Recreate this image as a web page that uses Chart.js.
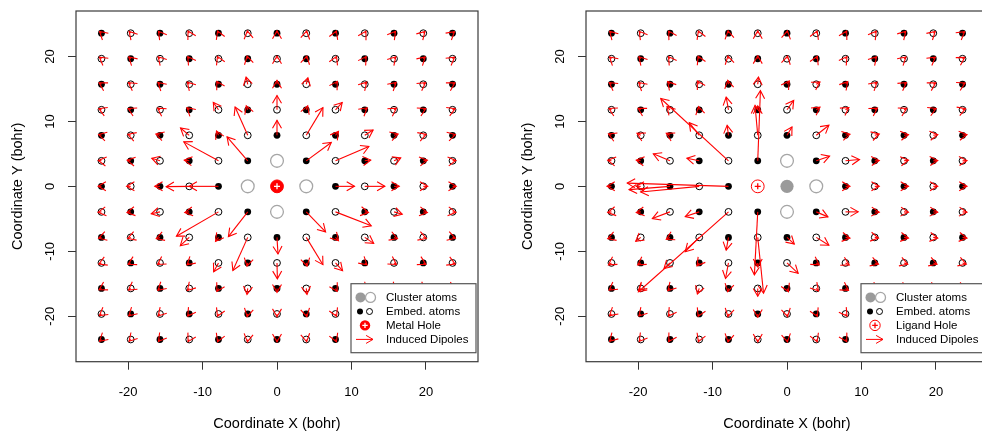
<!DOCTYPE html>
<html><head><meta charset="utf-8">
<script src="https://cdn.jsdelivr.net/npm/chart.js@4.4.0/dist/chart.umd.min.js"></script>
<style>
html,body{margin:0;padding:0;background:#fff;overflow:hidden;width:982px;height:431px;position:relative;}
.wrap{position:absolute;top:0;width:500px;height:431px;}
canvas{display:block;}
</style></head><body>
<div class="wrap" style="left:0px"><canvas id="c1" width="500" height="431"></canvas></div>
<div class="wrap" style="left:510px"><canvas id="c2" width="500" height="431"></canvas></div>
<script>
// ---------- DATA ----------
const colX = [-23.58,-19.65,-15.72,-11.79,-7.86,-3.93,0,3.93,7.86,11.79,15.72,19.65,23.58];
const rowY = [23.58,19.65,15.72,11.79,7.86,3.93,0,-3.93,-7.86,-11.79,-15.72,-19.65,-23.58];
const tickValues = [-20,-10,0,10,20];
const axisMin = -27, axisMax = 27;

// left panel: metal hole
const metalHole = [[0,0]];
const clusterOpenLeft = [[0,3.93],[0,-3.93],[-3.93,0],[3.93,0]];
// right panel: ligand hole
const ligandHole = [[-3.93,0]];
const clusterFilledRight = [[0,0]];
const clusterOpenRight = [[0,3.93],[0,-3.93],[3.93,0]];

// induced dipoles (bohr), rows top->bottom, columns left->right
const metalDipX = [
 [-0.26,-0.22,-0.2,-0.16,-0.12,-0.05,0.0,0.06,0.12,0.16,0.2,0.23,0.26],
 [-0.28,-0.26,-0.24,-0.2,-0.14,-0.08,0.0,0.08,0.14,0.19,0.24,0.26,0.28],
 [-0.32,-0.3,-0.28,-0.26,-0.22,-0.22,0.0,0.22,0.24,0.26,0.28,0.3,0.32],
 [-0.35,-0.34,-0.32,-0.3,-0.7,-0.2,0.0,0.2,0.9,0.32,0.32,0.34,0.35],
 [-0.38,-0.38,-0.55,-1.17,-0.27,-1.7,0.0,2.24,0.4,1.12,0.55,0.38,0.38],
 [-0.42,-0.48,-1.1,-0.67,-4.66,-2.78,null,3.36,4.48,0.8,0.9,0.55,0.45],
 [-0.45,-0.55,-0.7,-3.1,-3.94,null,null,null,2.55,2.7,0.7,0.6,0.5],
 [-0.45,-0.5,-1.17,-0.6,-5.65,-2.6,null,2.6,4.8,0.5,1.1,0.55,0.45],
 [-0.38,-0.4,-0.5,-1.2,-0.4,-2.0,0.13,2.24,0.4,1.2,0.46,0.4,0.38],
 [-0.35,-0.34,-0.32,-0.3,-0.65,-0.1,0.05,0.1,0.95,0.3,0.32,0.34,0.35],
 [-0.32,-0.3,-0.28,-0.26,-0.22,-0.1,0.0,0.1,0.22,0.26,0.28,0.3,0.32],
 [-0.28,-0.26,-0.24,-0.2,-0.14,-0.08,0.0,0.08,0.14,0.19,0.24,0.26,0.28],
 [-0.26,-0.22,-0.2,-0.16,-0.12,-0.05,0.0,0.06,0.12,0.16,0.2,0.23,0.26]
];
const metalDipY = [
 [0.26,0.28,0.3,0.33,0.34,0.36,0.36,0.35,0.34,0.32,0.3,0.27,0.25],
 [0.24,0.27,0.3,0.33,0.36,0.4,0.42,0.4,0.36,0.33,0.3,0.27,0.24],
 [0.21,0.24,0.28,0.32,0.45,1.1,0.6,1.0,0.45,0.32,0.28,0.24,0.21],
 [0.17,0.2,0.24,0.3,1.15,0.6,2.2,0.6,1.13,0.3,0.24,0.2,0.17],
 [0.12,0.15,0.2,1.13,0.67,4.36,2.3,4.26,0.6,0.82,0.2,0.15,0.12],
 [0.07,0.1,0.4,0.1,2.92,3.69,null,2.82,2.2,0.12,0.46,0.1,0.07],
 [0.0,0.0,0.0,-0.05,0.0,null,null,null,0.0,0.0,0.0,0.0,0.0],
 [-0.07,-0.1,-0.3,-0.1,-3.74,-3.8,null,-3.08,-2.15,-0.1,-0.36,-0.1,-0.07],
 [-0.13,-0.16,-0.2,-1.28,-0.6,-5.1,-2.56,-4.2,-0.5,-0.92,-0.2,-0.16,-0.13],
 [-0.17,-0.2,-0.24,-0.3,-1.35,-0.5,-2.45,-0.5,-1.2,-0.3,-0.24,-0.2,-0.17],
 [-0.21,-0.24,-0.28,-0.32,-0.45,-0.9,-0.6,-0.9,-0.45,-0.32,-0.28,-0.24,-0.21],
 [-0.24,-0.27,-0.3,-0.33,-0.36,-0.4,-0.42,-0.4,-0.36,-0.33,-0.3,-0.27,-0.24],
 [-0.26,-0.28,-0.3,-0.33,-0.34,-0.36,-0.36,-0.35,-0.34,-0.32,-0.3,-0.27,-0.25]
];
const ligandDipX = [
 [-0.24,-0.2,-0.17,-0.12,-0.06,0.0,0.06,0.12,0.16,0.2,0.24,0.26,0.28],
 [-0.26,-0.24,-0.2,-0.15,-0.08,0.0,0.08,0.15,0.2,0.24,0.26,0.28,0.3],
 [-0.3,-0.28,-0.3,-0.25,-0.1,0.1,0.3,0.5,0.3,0.3,0.32,0.33,0.34],
 [-0.34,-0.35,-0.4,-0.1,-0.31,0.0,0.9,0.5,0.45,0.35,0.37,0.38,0.4],
 [-0.4,-0.5,-0.5,-1.34,-0.18,-0.36,0.67,1.7,0.6,0.6,0.6,0.6,0.6],
 [-0.5,-0.6,-2.24,-1.66,-9.1,0.36,null,1.79,1.88,0.6,0.6,0.6,0.6],
 [-0.6,-0.6,-5.5,-7.87,-13.6,null,null,null,0.6,0.6,0.6,0.6,0.6],
 [-0.5,-0.6,-2.37,-1.88,-12.1,-0.45,null,1.57,1.7,0.6,0.6,0.6,0.6],
 [-0.5,-0.67,-0.5,-1.88,-0.31,0.78,0.98,1.7,0.6,0.5,0.6,0.6,0.6],
 [-0.4,-0.4,-0.8,-0.3,-0.4,0.0,1.5,0.4,0.5,0.5,0.5,0.5,0.5],
 [-0.32,-0.3,-0.28,-0.25,-0.1,0.0,0.2,0.3,0.4,0.35,0.36,0.37,0.38],
 [-0.26,-0.24,-0.2,-0.15,-0.08,0.0,0.08,0.15,0.2,0.24,0.26,0.28,0.3],
 [-0.24,-0.2,-0.17,-0.12,-0.06,0.0,0.06,0.12,0.16,0.2,0.24,0.26,0.28]
];
const ligandDipY = [
 [0.28,0.3,0.32,0.34,0.36,0.36,0.36,0.34,0.33,0.31,0.29,0.27,0.25],
 [0.26,0.3,0.33,0.37,0.4,0.45,0.4,0.37,0.33,0.3,0.26,0.24,0.21],
 [0.24,0.28,0.4,0.5,0.6,1.1,0.5,0.35,0.4,0.3,0.26,0.22,0.2],
 [0.2,0.24,0.5,0.5,1.95,0.6,1.44,0.4,0.35,0.26,0.22,0.19,0.17],
 [0.2,0.3,0.3,1.95,1.54,4.6,1.28,1.54,0.15,0.2,0.1,0.1,0.1],
 [0.1,0.1,1.08,0.41,9.6,10.8,null,0.72,0.2,0.05,0.1,0.05,0.05],
 [0.0,0.0,-0.5,-0.87,0.5,null,null,null,0.0,0.0,0.0,0.0,0.0],
 [-0.1,-0.1,-1.03,-0.72,-12.3,-9.7,null,-0.77,0.0,-0.05,-0.05,-0.05,-0.05],
 [-0.2,-0.6,-0.3,-2.2,-1.95,-8.6,-1.03,-1.2,-0.1,-0.1,-0.1,-0.1,-0.1],
 [-0.3,-0.3,-0.87,-0.45,-2.4,-0.6,-1.6,-0.3,-0.3,-0.2,-0.2,-0.2,-0.2],
 [-0.26,-0.3,-0.34,-0.85,-0.5,-1.2,-0.5,-0.4,-0.3,-0.3,-0.27,-0.24,-0.2],
 [-0.26,-0.3,-0.33,-0.37,-0.4,-0.5,-0.4,-0.37,-0.33,-0.3,-0.26,-0.24,-0.21],
 [-0.28,-0.3,-0.32,-0.34,-0.36,-0.36,-0.36,-0.34,-0.33,-0.31,-0.29,-0.27,-0.25]
];

// ---------- RENDERING ----------
const FONT = "'Liberation Sans', Arial, Helvetica, sans-serif";
const RED = '#ff0000', GREY = '#a6a6a6', GREYFILL = '#9a9a9a';
const HEAD = 9;

function arrow(ctx, x0, y0, x1, y1, L) {
  ctx.beginPath(); ctx.moveTo(x0, y0); ctx.lineTo(x1, y1); ctx.stroke();
  const a = Math.atan2(y1 - y0, x1 - x0), h = Math.PI / 6;
  ctx.beginPath();
  ctx.moveTo(x1 - L * Math.cos(a - h), y1 - L * Math.sin(a - h));
  ctx.lineTo(x1, y1);
  ctx.lineTo(x1 - L * Math.cos(a + h), y1 - L * Math.sin(a + h));
  ctx.stroke();
}
function circle(ctx, x, y, r, fill, stroke, lw) {
  ctx.beginPath(); ctx.arc(x, y, r, 0, Math.PI * 2);
  if (fill) { ctx.fillStyle = fill; ctx.fill(); }
  if (stroke) { ctx.strokeStyle = stroke; ctx.lineWidth = lw; ctx.stroke(); }
}
function plus(ctx, x, y, s, color) {
  ctx.strokeStyle = color; ctx.lineWidth = 1.3;
  ctx.beginPath(); ctx.moveTo(x - s, y); ctx.lineTo(x + s, y); ctx.moveTo(x, y - s); ctx.lineTo(x, y + s); ctx.stroke();
}

const framePlugin = {
  id: 'frameAndDipoles',
  afterDatasetsDraw(chart) {
    const o = chart.options.plugins.frameAndDipoles;
    const ctx = chart.ctx, xs = chart.scales.x, ys = chart.scales.y;
    ctx.save();
    ctx.strokeStyle = RED; ctx.lineWidth = 1.1;
    o.arrows.forEach(a => {
      const x0 = xs.getPixelForValue(a.x), y0 = ys.getPixelForValue(a.y);
      const x1 = xs.getPixelForValue(a.x + a.dx), y1 = ys.getPixelForValue(a.y + a.dy);
      arrow(ctx, x0, y0, x1, y1, HEAD);
    });
    ctx.restore();
  },
  afterDraw(chart) {
    const o = chart.options.plugins.frameAndDipoles;
    const ctx = chart.ctx, A = chart.chartArea;
    ctx.save();
    ctx.strokeStyle = '#3a3a3a'; ctx.lineWidth = 1.2;
    ctx.strokeRect(A.left, A.top, A.right - A.left, A.bottom - A.top);
    // legend
    const bw = 125, bh = 69;
    const bx = A.right - 2 - bw, by = A.bottom - 9 - bh;
    ctx.fillStyle = '#fff'; ctx.fillRect(bx, by, bw, bh);
    ctx.strokeStyle = '#555'; ctx.lineWidth = 1.2; ctx.strokeRect(bx, by, bw, bh);
    const ys = [by + 13.7, by + 27.8, by + 41.7, by + 55.7];
    circle(ctx, bx + 9.5, ys[0], 5, GREYFILL, null, 0);
    circle(ctx, bx + 19.5, ys[0], 5, '#fff', GREY, 1.3);
    circle(ctx, bx + 9, ys[1], 3, '#000', null, 0);
    circle(ctx, bx + 18.5, ys[1], 3, null, '#000', 1);
    if (o.holeFilled) {
      circle(ctx, bx + 14, ys[2], 5.2, RED, null, 0);
      plus(ctx, bx + 14, ys[2], 2.7, '#fff');
    } else {
      circle(ctx, bx + 14, ys[2], 5.2, null, RED, 1);
      plus(ctx, bx + 14, ys[2], 2.8, RED);
    }
    ctx.strokeStyle = RED; ctx.lineWidth = 1;
    arrow(ctx, bx + 5, ys[3], bx + 22, ys[3], 8);
    ctx.fillStyle = '#000'; ctx.font = '11.5px ' + FONT; ctx.textBaseline = 'middle'; ctx.textAlign = 'left';
    o.labels.forEach((t, i) => ctx.fillText(t, bx + 35, ys[i] + 0.5));
    ctx.restore();
  }
};

function toPts(arr) { return arr.map(p => ({x: p[0], y: p[1]})); }

function buildPanel(id, cfg) {
  const special = cfg.clusterOpen.concat(cfg.clusterFilled, cfg.hole);
  const filled = [], open = [], arrows = [];
  rowY.forEach((y, i) => colX.forEach((x, j) => {
    if (special.some(s => Math.abs(s[0] - x) < 0.01 && Math.abs(s[1] - y) < 0.01)) return;
    ((i + j) % 2 === 0 ? filled : open).push({x, y});
    arrows.push({x, y, dx: cfg.dx[i][j], dy: cfg.dy[i][j]});
  }));
  const datasets = [
    {label: 'hole plus', data: toPts(cfg.hole), pointStyle: 'cross', pointRadius: 3, borderWidth: 1.3,
     borderColor: cfg.holeFilled ? '#fff' : RED, backgroundColor: 'transparent', order: 0},
    {label: 'hole', data: toPts(cfg.hole), pointStyle: 'circle', pointRadius: 6.4, borderWidth: 1,
     borderColor: RED, backgroundColor: cfg.holeFilled ? RED : 'transparent', order: 1},
    {label: 'cluster filled', data: toPts(cfg.clusterFilled), pointStyle: 'circle', pointRadius: 6.6, borderWidth: 0,
     borderColor: GREYFILL, backgroundColor: GREYFILL, order: 2},
    {label: 'cluster open', data: toPts(cfg.clusterOpen), pointStyle: 'circle', pointRadius: 6.4, borderWidth: 1.3,
     borderColor: GREY, backgroundColor: 'transparent', order: 3},
    {label: 'embed filled', data: filled, pointStyle: 'circle', pointRadius: 3.4, borderWidth: 0,
     borderColor: '#000', backgroundColor: '#000', order: 4},
    {label: 'embed open', data: open, pointStyle: 'circle', pointRadius: 3.4, borderWidth: 1,
     borderColor: '#000', backgroundColor: 'transparent', order: 5}
  ];
  const tickFont = {family: FONT, size: 13};
  const titleFont = {family: FONT, size: 14.5};
  return new Chart(document.getElementById(id), {
    type: 'scatter',
    data: {datasets},
    plugins: [framePlugin],
    options: {
      responsive: false, animation: false, events: [],
      layout: {padding: {top: 11, right: 22, left: 0, bottom: 0}},
      plugins: {
        legend: {display: false}, tooltip: {enabled: false},
        frameAndDipoles: {arrows, labels: cfg.labels, holeFilled: cfg.holeFilled}
      },
      scales: {
        x: {
          type: 'linear', position: 'bottom', min: axisMin, max: axisMax,
          afterBuildTicks: s => { s.ticks = tickValues.map(v => ({value: v})); },
          afterFit: s => { s.height = 69.3; s.paddingLeft = 0; s.paddingRight = 0; },
          grid: {display: true, drawOnChartArea: false, drawTicks: true, tickLength: 8, color: '#333', lineWidth: 1},
          border: {display: false},
          ticks: {font: tickFont, color: '#000', padding: 15, maxRotation: 0, autoSkip: false},
          title: {display: true, text: 'Coordinate X (bohr)', font: titleFont, color: '#000', padding: {top: 0, bottom: -1.5}}
        },
        y: {
          type: 'linear', position: 'left', min: axisMin, max: axisMax,
          afterBuildTicks: s => { s.ticks = tickValues.map(v => ({value: v})); },
          afterFit: s => { s.width = 76; s.paddingTop = 0; s.paddingBottom = 0; },
          grid: {display: true, drawOnChartArea: false, drawTicks: true, tickLength: 8, color: '#333', lineWidth: 1},
          border: {display: false},
          ticks: {font: tickFont, color: '#000', padding: 8.6, minRotation: 90, maxRotation: 90, crossAlign: 'center', autoSkip: false},
          title: {display: true, text: 'Coordinate Y (bohr)', font: titleFont, color: '#000', padding: {top: 9.5, bottom: 0}}
        }
      }
    }
  });
}

buildPanel('c1', {
  hole: metalHole, holeFilled: true, clusterOpen: clusterOpenLeft, clusterFilled: [],
  dx: metalDipX, dy: metalDipY,
  labels: ['Cluster atoms', 'Embed. atoms', 'Metal Hole', 'Induced Dipoles']
});
buildPanel('c2', {
  hole: ligandHole, holeFilled: false, clusterOpen: clusterOpenRight, clusterFilled: clusterFilledRight,
  dx: ligandDipX, dy: ligandDipY,
  labels: ['Cluster atoms', 'Embed. atoms', 'Ligand Hole', 'Induced Dipoles']
});
</script>
</body></html>
